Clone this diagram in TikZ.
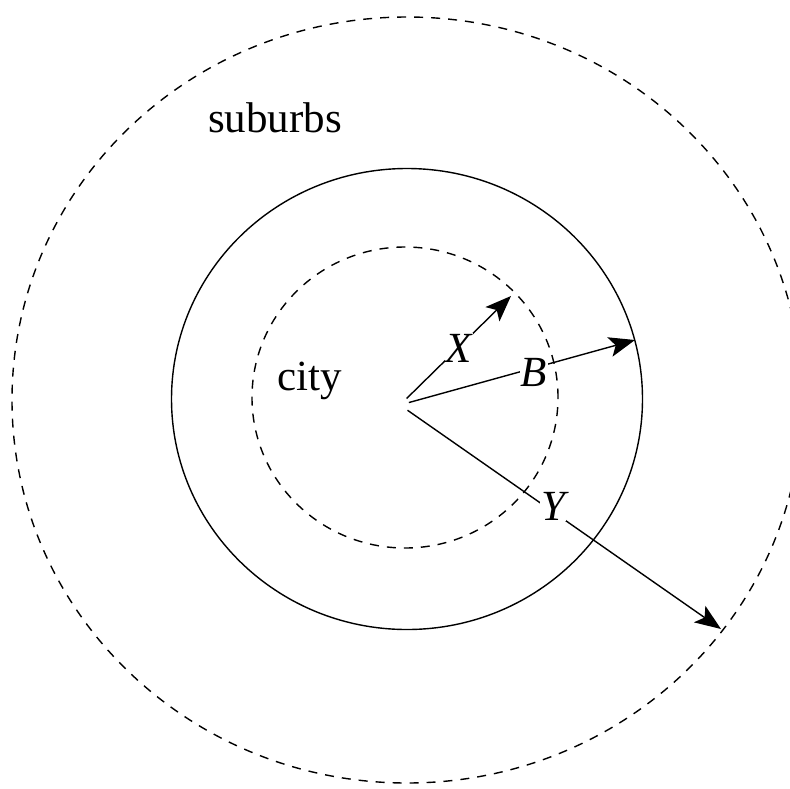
\documentclass[tikz,border=0pt]{standalone}
\usepackage{fontspec}
\setmainfont{Liberation Serif}
\usetikzlibrary{arrows.meta}
\begin{document}
\begin{tikzpicture}[x=1pt,y=-1pt,
  ring/.style={line width=1.4pt},
  dashring/.style={line width=1.4pt, dash pattern=on 9pt off 8pt},
  radiusarrow/.style={line width=1.4pt, -{Stealth[length=26pt,width=20pt,inset=6pt]}},
  lbl/.style={font=\fontsize{43}{51}\selectfont, inner sep=1pt, anchor=base},
  varlbl/.style={lbl, fill=white, font=\fontsize{43}{51}\selectfont\itshape}]
\useasboundingbox (0,0) rectangle (790,788);
% circles
\draw[dashring] (407,400) ellipse [x radius=395pt, y radius=383pt];
\draw[ring] (407,399) ellipse [x radius=235.5pt, y radius=230.5pt];
\draw[dashring] (405,397.5) ellipse [x radius=153pt, y radius=150.5pt];
% centre and arrow ends
\node[circle, minimum size=18pt, inner sep=0pt] (c) at (400,405) {};
\coordinate (xe) at (511,296);
\coordinate (be) at (635,340);
\coordinate (ye) at (721,629);
\draw[radiusarrow] (c) -- (xe);
\draw[radiusarrow] (c) -- (be);
\draw[radiusarrow] (c) -- (ye);
% labels
\node[varlbl] (xl) at (459,362) {X};
\node[varlbl] (bl) at (534,386) {B};
\node[varlbl] (yl) at (553,520) {Y};
\node[lbl] (sub) at (275,132) {suburbs};
\node[lbl] (city) at (310,390) {city};
\end{tikzpicture}
\end{document}
